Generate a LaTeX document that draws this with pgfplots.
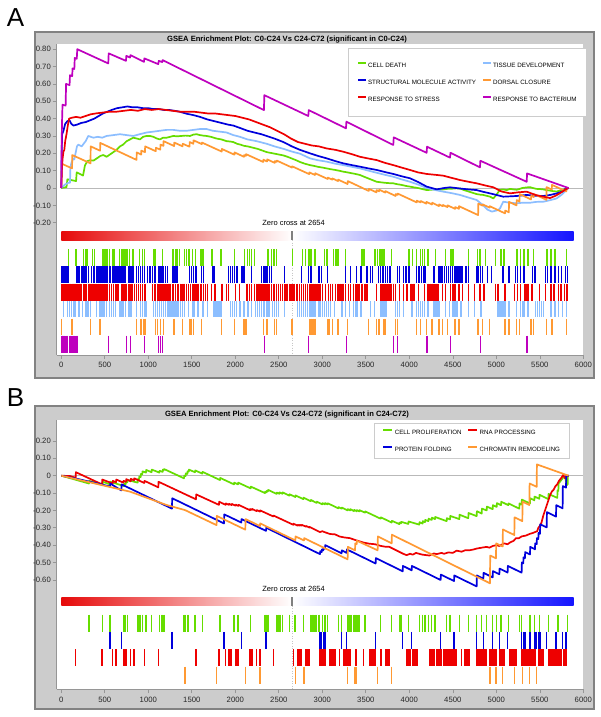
\documentclass[border=0pt]{standalone}
\usepackage{pgfplots}
\pgfplotsset{compat=1.18}
\usepackage{fontspec}
\setmainfont{Liberation Sans}
\definecolor{cgreen}{RGB}{102,221,0}
\definecolor{cblue}{RGB}{0,0,220}
\definecolor{cred}{RGB}{238,0,0}
\definecolor{clblue}{RGB}{140,190,255}
\definecolor{corange}{RGB}{255,153,51}
\definecolor{cmag}{RGB}{190,0,190}
\definecolor{barred}{RGB}{230,10,10}
\definecolor{barblue}{RGB}{20,20,255}
\definecolor{framegray}{RGB}{204,204,204}
\definecolor{frameline}{RGB}{130,130,130}
\definecolor{axgray}{RGB}{150,150,150}
\pgfplotsset{
  gsea/.style={
    scale only axis, width=526.8pt,
    xmin=-55, xmax=6000,
    axis background/.style={fill=white},
    axis x line*=bottom, axis y line*=left,
    axis line style={axgray, line width=0.6pt},
    tick style={axgray, line width=0.6pt},
    tick align=outside, major tick length=4pt,
    xtick={0,500,...,6000},
    xticklabels={0,500,1000,1500,2000,2500,3000,3500,4000,4500,5000,5500,6000},
    tick label style={font=\fontsize{7.7}{9}\selectfont, text=black!85},
    yticklabel style={inner xsep=1.5pt},
    legend cell align=left,
    every axis plot/.append style={line join=round},
  },
  rug/.style={forget plot, only marks, mark=|, mark size=8.6pt, mark options={line width=1.4pt}},
  curve/.style={line width=1.7pt, mark=none},
}
\begin{document}
\begin{tikzpicture}[x=1pt,y=1pt]
\useasboundingbox (0,0) rectangle (600,717);
\fill[framegray, draw=frameline, line width=1.2pt] (35,339) rectangle (594,685);
\fill[framegray, draw=frameline, line width=1.2pt] (35,8) rectangle (594,311);
\node[font=\fontsize{26}{26}\selectfont] at (15.5,699.5) {A};
\node[font=\fontsize{26}{26}\selectfont] at (15.5,319) {B};
\node[font=\bfseries\fontsize{7.6}{9}\selectfont] at (287,677) {GSEA Enrichment Plot: C0-C24 Vs C24-C72 (significant in C0-C24)};
\node[font=\bfseries\fontsize{7.6}{9}\selectfont] at (287,302.5) {GSEA Enrichment Plot: C0-C24 Vs C24-C72 (significant in C24-C72)};

% ---------------- Panel A ----------------
\begin{axis}[gsea, at={(56.5pt,362pt)}, anchor=south west, height=311pt,
  ymin=-0.9625, ymax=0.83,
  ytick={-0.2,-0.1,0,0.1,0.2,0.3,0.4,0.5,0.6,0.7,0.8},
  yticklabels={-0.20,-0.10,0,0.10,0.20,0.30,0.40,0.50,0.60,0.70,0.80},
  legend columns=2,
  legend image code/.code={\draw[#1, line width=2pt] (0pt,2.2pt) -- (8pt,2.2pt);},
  legend style={at={(0.553,0.987)}, anchor=north west, draw=gray!40, fill=white,
    font=\fontsize{6.25}{7}\selectfont, inner xsep=9pt, inner ysep=13.5pt, row sep=10.5pt,
    nodes={inner sep=1pt, text height=4.6pt, text depth=0pt},
    /tikz/every even column/.append style={column sep=5pt}},
]
\addplot[forget plot, gray!55, line width=0.7pt] coordinates {(0,0) (6000,0)};
\addplot[forget plot, draw=none, left color=barred, right color=white] coordinates {(0,-0.25) (2654,-0.25) (2654,-0.30) (0,-0.30) (0,-0.25)};
\addplot[forget plot, draw=none, left color=white, right color=barblue] coordinates {(2654,-0.25) (5890,-0.25) (5890,-0.30) (2654,-0.30) (2654,-0.25)};
\addplot[forget plot, gray!45, line width=0.5pt, dotted] coordinates {(2654,-0.30) (2654,-0.9625)};
\addplot[forget plot, gray, line width=1.5pt] coordinates {(2654,-0.25) (2654,-0.30)};
\node[font=\fontsize{7.5}{9}\selectfont] at (axis cs:2670,-0.2) {Zero cross at 2654};

% rugs
\addplot[rug, color=cgreen] coordinates {(80,-0.4)(168,-0.4)(257,-0.4)(283,-0.4)(301,-0.4)(359,-0.4)(381,-0.4)(478,-0.4)(504,-0.4)(526,-0.4)(557,-0.4)(593,-0.4)(615,-0.4)(672,-0.4)(690,-0.4)(708,-0.4)(725,-0.4)(743,-0.4)(756,-0.4)(787,-0.4)(823,-0.4)(900,-0.4)(931,-0.4)(953,-0.4)(1064,-0.4)(1086,-0.4)(1161,-0.4)(1285,-0.4)(1320,-0.4)(1338,-0.4)(1360,-0.4)(1418,-0.4)(1440,-0.4)(1470,-0.4)(1505,-0.4)(1540,-0.4)(1605,-0.4)(1627,-0.4)(1733,-0.4)(1835,-0.4)(1988,-0.4)(2108,-0.4)(2143,-0.4)(2165,-0.4)(2187,-0.4)(2223,-0.4)(2376,-0.4)(2416,-0.4)(2443,-0.4)(2474,-0.4)(2659,-0.4)(2773,-0.4)(2804,-0.4)(2839,-0.4)(2857,-0.4)(2871,-0.4)(2915,-0.4)(3025,-0.4)(3056,-0.4)(3127,-0.4)(3158,-0.4)(3180,-0.4)(3268,-0.4)(3457,-0.4)(3480,-0.4)(3607,-0.4)(3633,-0.4)(3664,-0.4)(3686,-0.4)(3708,-0.4)(3797,-0.4)(3995,-0.4)(4039,-0.4)(4083,-0.4)(4127,-0.4)(4149,-0.4)(4172,-0.4)(4216,-0.4)(4304,-0.4)(4414,-0.4)(4480,-0.4)(4502,-0.4)(4679,-0.4)(4781,-0.4)(4812,-0.4)(4878,-0.4)(4988,-0.4)(5055,-0.4)(5090,-0.4)(5240,-0.4)(5275,-0.4)(5319,-0.4)(5363,-0.4)(5430,-0.4)(5584,-0.4)(5628,-0.4)(5673,-0.4)(5805,-0.4)};
\addplot[rug, color=cblue] coordinates {(5,-0.5)(18,-0.5)(31,-0.5)(44,-0.5)(57,-0.5)(70,-0.5)(80,-0.5)(181,-0.5)(203,-0.5)(239,-0.5)(256,-0.5)(274,-0.5)(292,-0.5)(314,-0.5)(349,-0.5)(367,-0.5)(384,-0.5)(402,-0.5)(419,-0.5)(433,-0.5)(446,-0.5)(468,-0.5)(490,-0.5)(512,-0.5)(534,-0.5)(552,-0.5)(569,-0.5)(587,-0.5)(605,-0.5)(622,-0.5)(640,-0.5)(658,-0.5)(675,-0.5)(693,-0.5)(711,-0.5)(733,-0.5)(777,-0.5)(794,-0.5)(812,-0.5)(830,-0.5)(865,-0.5)(887,-0.5)(909,-0.5)(931,-0.5)(953,-0.5)(988,-0.5)(1019,-0.5)(1050,-0.5)(1077,-0.5)(1121,-0.5)(1138,-0.5)(1156,-0.5)(1174,-0.5)(1196,-0.5)(1218,-0.5)(1284,-0.5)(1306,-0.5)(1328,-0.5)(1474,-0.5)(1496,-0.5)(1518,-0.5)(1549,-0.5)(1615,-0.5)(1637,-0.5)(1738,-0.5)(1756,-0.5)(1924,-0.5)(1946,-0.5)(1968,-0.5)(1994,-0.5)(2021,-0.5)(2078,-0.5)(2100,-0.5)(2188,-0.5)(2299,-0.5)(2321,-0.5)(2343,-0.5)(2365,-0.5)(2391,-0.5)(2418,-0.5)(2563,-0.5)(2762,-0.5)(2841,-0.5)(2872,-0.5)(2960,-0.5)(2991,-0.5)(3062,-0.5)(3269,-0.5)(3326,-0.5)(3392,-0.5)(3445,-0.5)(3512,-0.5)(3556,-0.5)(3578,-0.5)(3644,-0.5)(3670,-0.5)(3697,-0.5)(3723,-0.5)(3750,-0.5)(3776,-0.5)(3864,-0.5)(3886,-0.5)(3931,-0.5)(3962,-0.5)(3997,-0.5)(4085,-0.5)(4111,-0.5)(4138,-0.5)(4164,-0.5)(4182,-0.5)(4283,-0.5)(4341,-0.5)(4363,-0.5)(4385,-0.5)(4407,-0.5)(4429,-0.5)(4451,-0.5)(4473,-0.5)(4495,-0.5)(4517,-0.5)(4539,-0.5)(4561,-0.5)(4583,-0.5)(4605,-0.5)(4650,-0.5)(4680,-0.5)(4769,-0.5)(4791,-0.5)(4817,-0.5)(4844,-0.5)(4901,-0.5)(4945,-0.5)(5078,-0.5)(5144,-0.5)(5223,-0.5)(5241,-0.5)(5276,-0.5)(5320,-0.5)(5417,-0.5)(5444,-0.5)(5563,-0.5)(5585,-0.5)(5629,-0.5)(5673,-0.5)(5717,-0.5)(5752,-0.5)(5796,-0.5)(5818,-0.5)};
\addplot[rug, color=cred] coordinates {(5,-0.6)(18,-0.6)(31,-0.6)(44,-0.6)(57,-0.6)(70,-0.6)(83,-0.6)(96,-0.6)(109,-0.6)(122,-0.6)(135,-0.6)(148,-0.6)(161,-0.6)(174,-0.6)(181,-0.6)(203,-0.6)(225,-0.6)(256,-0.6)(270,-0.6)(284,-0.6)(314,-0.6)(327,-0.6)(340,-0.6)(353,-0.6)(366,-0.6)(379,-0.6)(392,-0.6)(405,-0.6)(424,-0.6)(446,-0.6)(468,-0.6)(490,-0.6)(512,-0.6)(534,-0.6)(556,-0.6)(578,-0.6)(600,-0.6)(622,-0.6)(640,-0.6)(660,-0.6)(697,-0.6)(715,-0.6)(733,-0.6)(751,-0.6)(777,-0.6)(799,-0.6)(821,-0.6)(843,-0.6)(865,-0.6)(887,-0.6)(909,-0.6)(931,-0.6)(962,-0.6)(1050,-0.6)(1068,-0.6)(1086,-0.6)(1104,-0.6)(1121,-0.6)(1139,-0.6)(1156,-0.6)(1174,-0.6)(1192,-0.6)(1210,-0.6)(1228,-0.6)(1240,-0.6)(1253,-0.6)(1284,-0.6)(1315,-0.6)(1333,-0.6)(1350,-0.6)(1368,-0.6)(1386,-0.6)(1404,-0.6)(1416,-0.6)(1438,-0.6)(1460,-0.6)(1482,-0.6)(1505,-0.6)(1527,-0.6)(1549,-0.6)(1571,-0.6)(1606,-0.6)(1637,-0.6)(1659,-0.6)(1681,-0.6)(1725,-0.6)(1769,-0.6)(1849,-0.6)(1902,-0.6)(1924,-0.6)(2003,-0.6)(2047,-0.6)(2135,-0.6)(2161,-0.6)(2188,-0.6)(2224,-0.6)(2242,-0.6)(2260,-0.6)(2277,-0.6)(2295,-0.6)(2312,-0.6)(2330,-0.6)(2348,-0.6)(2365,-0.6)(2387,-0.6)(2418,-0.6)(2444,-0.6)(2475,-0.6)(2497,-0.6)(2519,-0.6)(2541,-0.6)(2563,-0.6)(2585,-0.6)(2603,-0.6)(2620,-0.6)(2638,-0.6)(2656,-0.6)(2673,-0.6)(2709,-0.6)(2740,-0.6)(2762,-0.6)(2784,-0.6)(2806,-0.6)(2828,-0.6)(2850,-0.6)(2872,-0.6)(2894,-0.6)(2916,-0.6)(2938,-0.6)(2960,-0.6)(2982,-0.6)(3004,-0.6)(3035,-0.6)(3070,-0.6)(3092,-0.6)(3114,-0.6)(3150,-0.6)(3181,-0.6)(3203,-0.6)(3225,-0.6)(3247,-0.6)(3269,-0.6)(3299,-0.6)(3326,-0.6)(3357,-0.6)(3379,-0.6)(3401,-0.6)(3423,-0.6)(3458,-0.6)(3490,-0.6)(3512,-0.6)(3622,-0.6)(3666,-0.6)(3688,-0.6)(3710,-0.6)(3732,-0.6)(3754,-0.6)(3776,-0.6)(3798,-0.6)(3820,-0.6)(3842,-0.6)(3886,-0.6)(3931,-0.6)(3975,-0.6)(4019,-0.6)(4041,-0.6)(4063,-0.6)(4107,-0.6)(4173,-0.6)(4217,-0.6)(4239,-0.6)(4261,-0.6)(4283,-0.6)(4305,-0.6)(4328,-0.6)(4385,-0.6)(4416,-0.6)(4473,-0.6)(4504,-0.6)(4526,-0.6)(4570,-0.6)(4614,-0.6)(4680,-0.6)(4747,-0.6)(4813,-0.6)(4857,-0.6)(4989,-0.6)(5020,-0.6)(5100,-0.6)(5210,-0.6)(5241,-0.6)(5276,-0.6)(5329,-0.6)(5351,-0.6)(5364,-0.6)(5408,-0.6)(5496,-0.6)(5563,-0.6)(5629,-0.6)(5664,-0.6)(5717,-0.6)(5735,-0.6)(5752,-0.6)(5783,-0.6)(5805,-0.6)(5818,-0.6)};
\addplot[rug, color=clblue, mark size=8pt] coordinates {(27,-0.7)(71,-0.7)(93,-0.7)(115,-0.7)(137,-0.7)(159,-0.7)(203,-0.7)(247,-0.7)(283,-0.7)(309,-0.7)(336,-0.7)(402,-0.7)(446,-0.7)(468,-0.7)(490,-0.7)(521,-0.7)(556,-0.7)(578,-0.7)(600,-0.7)(622,-0.7)(666,-0.7)(688,-0.7)(711,-0.7)(741,-0.7)(777,-0.7)(799,-0.7)(865,-0.7)(909,-0.7)(931,-0.7)(953,-0.7)(975,-0.7)(1063,-0.7)(1085,-0.7)(1107,-0.7)(1129,-0.7)(1152,-0.7)(1174,-0.7)(1196,-0.7)(1218,-0.7)(1240,-0.7)(1262,-0.7)(1284,-0.7)(1306,-0.7)(1328,-0.7)(1350,-0.7)(1372,-0.7)(1394,-0.7)(1416,-0.7)(1460,-0.7)(1505,-0.7)(1527,-0.7)(1571,-0.7)(1628,-0.7)(1681,-0.7)(1747,-0.7)(1769,-0.7)(1791,-0.7)(1813,-0.7)(1835,-0.7)(1946,-0.7)(1968,-0.7)(1990,-0.7)(2012,-0.7)(2056,-0.7)(2100,-0.7)(2144,-0.7)(2188,-0.7)(2232,-0.7)(2254,-0.7)(2276,-0.7)(2299,-0.7)(2330,-0.7)(2365,-0.7)(2387,-0.7)(2431,-0.7)(2453,-0.7)(2475,-0.7)(2497,-0.7)(2563,-0.7)(2718,-0.7)(2740,-0.7)(2762,-0.7)(2784,-0.7)(2806,-0.7)(2828,-0.7)(2850,-0.7)(2872,-0.7)(2894,-0.7)(2916,-0.7)(2960,-0.7)(2982,-0.7)(3004,-0.7)(3026,-0.7)(3048,-0.7)(3070,-0.7)(3092,-0.7)(3137,-0.7)(3225,-0.7)(3269,-0.7)(3313,-0.7)(3357,-0.7)(3379,-0.7)(3401,-0.7)(3445,-0.7)(3556,-0.7)(3600,-0.7)(3666,-0.7)(3688,-0.7)(3710,-0.7)(3732,-0.7)(3842,-0.7)(3864,-0.7)(3886,-0.7)(3931,-0.7)(4032,-0.7)(4085,-0.7)(4107,-0.7)(4129,-0.7)(4151,-0.7)(4173,-0.7)(4217,-0.7)(4283,-0.7)(4305,-0.7)(4328,-0.7)(4350,-0.7)(4416,-0.7)(4460,-0.7)(4504,-0.7)(4526,-0.7)(4548,-0.7)(4592,-0.7)(4680,-0.7)(4747,-0.7)(4826,-0.7)(5011,-0.7)(5033,-0.7)(5055,-0.7)(5078,-0.7)(5100,-0.7)(5144,-0.7)(5232,-0.7)(5276,-0.7)(5298,-0.7)(5320,-0.7)(5364,-0.7)(5452,-0.7)(5474,-0.7)(5496,-0.7)(5518,-0.7)(5540,-0.7)(5629,-0.7)(5673,-0.7)(5717,-0.7)(5761,-0.7)(5805,-0.7)};
\addplot[rug, color=corange, mark size=8.2pt] coordinates {(5,-0.8)(124,-0.8)(336,-0.8)(446,-0.8)(865,-0.8)(918,-0.8)(944,-0.8)(962,-0.8)(1086,-0.8)(1108,-0.8)(1138,-0.8)(1174,-0.8)(1297,-0.8)(1394,-0.8)(1474,-0.8)(1491,-0.8)(1518,-0.8)(1615,-0.8)(1844,-0.8)(1990,-0.8)(2100,-0.8)(2122,-0.8)(2321,-0.8)(2365,-0.8)(2453,-0.8)(2475,-0.8)(2651,-0.8)(2850,-0.8)(2872,-0.8)(2894,-0.8)(2916,-0.8)(3062,-0.8)(3079,-0.8)(3115,-0.8)(3181,-0.8)(3291,-0.8)(3534,-0.8)(3622,-0.8)(3653,-0.8)(3710,-0.8)(3723,-0.8)(3842,-0.8)(3864,-0.8)(4085,-0.8)(4129,-0.8)(4195,-0.8)(4261,-0.8)(4341,-0.8)(4385,-0.8)(4438,-0.8)(4526,-0.8)(4570,-0.8)(4791,-0.8)(4844,-0.8)(4923,-0.8)(5100,-0.8)(5144,-0.8)(5232,-0.8)(5267,-0.8)(5399,-0.8)(5430,-0.8)(5576,-0.8)(5638,-0.8)(5805,-0.8)};
\addplot[rug, color=cmag] coordinates {(4,-0.9)(8,-0.9)(14,-0.9)(25,-0.9)(40,-0.9)(55,-0.9)(70,-0.9)(100,-0.9)(115,-0.9)(130,-0.9)(142,-0.9)(155,-0.9)(170,-0.9)(184,-0.9)(545,-0.9)(748,-0.9)(795,-0.9)(955,-0.9)(1120,-0.9)(1140,-0.9)(1165,-0.9)(2334,-0.9)(2844,-0.9)(3277,-0.9)(3821,-0.9)(3864,-0.9)(4204,-0.9)(4473,-0.9)(4817,-0.9)(5354,-0.9)};

% curves
\addplot[curve, color=cgreen] coordinates {(0,0) (60,0.005) (70,0.05) (170,0.04) (177,0.09) (250,0.072) (272,0.13) (300,0.155) (330,0.16) (370,0.158) (406,0.17) (450,0.185) (483,0.19) (521,0.18) (579,0.20) (636,0.22) (675,0.24) (710,0.25) (751,0.27) (790,0.28) (828,0.29) (870,0.285) (904,0.28) (940,0.295) (981,0.30) (1020,0.3) (1058,0.295) (1100,0.285) (1134,0.28) (1170,0.29) (1211,0.29) (1250,0.295) (1287,0.30) (1330,0.298) (1380,0.30) (1430,0.302) (1479,0.30) (1520,0.308) (1556,0.31) (1594,0.305) (1630,0.302) (1670,0.30) (1720,0.295) (1785,0.285) (1840,0.28) (1900,0.27) (1940,0.268) (1977,0.265) (2020,0.255) (2060,0.25) (2100,0.243) (2140,0.24) (2180,0.235) (2220,0.23) (2260,0.225) (2300,0.218) (2360,0.207) (2400,0.203) (2450,0.198) (2500,0.193) (2552,0.188) (2600,0.18) (2650,0.17) (2700,0.16) (2743,0.15) (2800,0.14) (2858,0.132) (2900,0.128) (2950,0.122) (3000,0.118) (3050,0.113) (3100,0.108) (3150,0.104) (3200,0.099) (3242,0.094) (3290,0.09) (3340,0.085) (3390,0.08) (3433,0.075) (3480,0.065) (3530,0.055) (3580,0.045) (3625,0.036) (3670,0.033) (3720,0.03) (3770,0.028) (3816,0.027) (3860,0.022) (3910,0.018) (3960,0.012) (4008,0.008) (4050,0.004) (4100,0.0) (4150,-0.006) (4200,-0.012) (4250,-0.01) (4300,-0.008) (4350,-0.01) (4391,-0.008) (4440,-0.005) (4490,-0.004) (4540,-0.002) (4583,-0.003) (4630,-0.012) (4680,-0.02) (4730,-0.028) (4774,-0.035) (4810,-0.038) (4850,-0.04) (4890,-0.045) (4928,-0.05) (4966,-0.06) (5000,-0.04) (5042,-0.01) (5080,-0.008) (5120,-0.012) (5157,-0.005) (5200,-0.008) (5234,-0.01) (5270,-0.005) (5300,0.0) (5340,0.003) (5387,0.005) (5420,0.0) (5460,-0.005) (5500,-0.006) (5540,-0.008) (5580,-0.012) (5617,-0.015) (5650,-0.018) (5694,-0.02) (5730,-0.015) (5760,-0.01) (5800,-0.005) (5830,0)};
\addlegendentry{CELL DEATH}
\addplot[curve, color=clblue] coordinates {(0,0) (20,0.01) (43,0.02) (81,0.03) (100,0.03) (105,0.12) (119,0.15) (138,0.17) (150,0.165) (180,0.24) (196,0.25) (234,0.24) (280,0.27) (310,0.30) (368,0.29) (420,0.295) (470,0.29) (521,0.30) (600,0.305) (675,0.31) (750,0.305) (828,0.30) (900,0.31) (981,0.32) (1060,0.325) (1134,0.33) (1210,0.335) (1287,0.335) (1360,0.33) (1441,0.33) (1520,0.335) (1594,0.34) (1670,0.34) (1740,0.33) (1820,0.325) (1900,0.32) (1977,0.305) (2054,0.295) (2140,0.28) (2245,0.27) (2360,0.255) (2450,0.24) (2552,0.226) (2650,0.21) (2743,0.198) (2858,0.171) (2950,0.16) (3050,0.152) (3150,0.14) (3242,0.132) (3340,0.122) (3433,0.113) (3530,0.10) (3625,0.088) (3720,0.076) (3816,0.065) (3910,0.05) (4008,0.036) (4100,0.02) (4200,0.0) (4300,-0.012) (4391,-0.021) (4490,-0.03) (4583,-0.04) (4680,-0.055) (4774,-0.069) (4850,-0.1) (4900,-0.125) (4950,-0.136) (5000,-0.13) (5040,-0.12) (5080,-0.079) (5157,-0.085) (5234,-0.088) (5300,-0.085) (5387,-0.085) (5460,-0.08) (5540,-0.079) (5620,-0.07) (5694,-0.06) (5760,-0.035) (5808,-0.01) (5830,0)};
\addlegendentry{TISSUE DEVELOPMENT}
\addplot[curve, color=cblue] coordinates {(0,0) (5,0.22) (10,0.31) (25,0.33) (45,0.37) (70,0.385) (95,0.39) (115,0.37) (140,0.36) (180,0.365) (230,0.375) (280,0.38) (330,0.39) (380,0.40) (430,0.415) (480,0.43) (530,0.44) (580,0.45) (640,0.46) (700,0.465) (760,0.47) (820,0.465) (880,0.465) (940,0.46) (1000,0.46) (1060,0.455) (1120,0.455) (1180,0.45) (1240,0.45) (1300,0.445) (1360,0.44) (1441,0.428) (1520,0.42) (1594,0.41) (1680,0.395) (1760,0.385) (1840,0.375) (1920,0.365) (1977,0.36) (2060,0.345) (2140,0.33) (2220,0.32) (2300,0.31) (2360,0.30) (2450,0.285) (2552,0.265) (2650,0.24) (2743,0.22) (2858,0.20) (2950,0.185) (3050,0.171) (3150,0.155) (3242,0.142) (3340,0.132) (3433,0.123) (3530,0.113) (3625,0.104) (3720,0.092) (3816,0.081) (3910,0.068) (4008,0.056) (4100,0.035) (4200,0.008) (4315,-0.008) (4400,0.0) (4468,0.004) (4583,-0.003) (4680,-0.008) (4774,-0.012) (4850,-0.022) (4928,-0.031) (5000,-0.04) (5080,-0.05) (5160,-0.048) (5234,-0.046) (5349,-0.04) (5450,-0.045) (5540,-0.046) (5620,-0.04) (5694,-0.031) (5760,-0.02) (5808,0) (5830,0)};
\addlegendentry{STRUCTURAL MOLECULE ACTIVITY}
\addplot[curve, color=corange] coordinates {(0,0) (5,0.14) (124,0.113) (126,0.19) (336,0.142) (338,0.24) (446,0.215) (448,0.26) (865,0.162) (867,0.205) (918,0.193) (920,0.215) (962,0.207) (964,0.24) (1086,0.212) (1088,0.232) (1138,0.221) (1140,0.25) (1174,0.243) (1176,0.27) (1297,0.242) (1299,0.262) (1394,0.24) (1396,0.255) (1474,0.238) (1476,0.265) (1518,0.255) (1520,0.275) (1615,0.253) (1617,0.262) (1844,0.21) (1846,0.225) (1990,0.192) (1992,0.205) (2100,0.18) (2102,0.19) (2122,0.185) (2124,0.195) (2321,0.15) (2323,0.163) (2365,0.153) (2367,0.165) (2453,0.145) (2455,0.155) (2475,0.15) (2477,0.158) (2651,0.118) (2653,0.125) (2850,0.08) (2852,0.09) (2916,0.075) (2918,0.085) (3062,0.052) (3064,0.06) (3115,0.048) (3117,0.055) (3181,0.04) (3183,0.048) (3291,0.023) (3293,0.04) (3534,-0.017) (3536,-0.005) (3622,-0.025) (3624,-0.012) (3653,-0.019) (3655,-0.01) (3723,-0.026) (3725,-0.018) (3842,-0.046) (3844,-0.035) (3864,-0.04) (3866,-0.032) (4085,-0.083) (4087,-0.073) (4129,-0.083) (4131,-0.075) (4195,-0.09) (4197,-0.08) (4261,-0.095) (4263,-0.085) (4341,-0.104) (4343,-0.095) (4385,-0.105) (4387,-0.098) (4438,-0.11) (4440,-0.1) (4526,-0.12) (4528,-0.11) (4570,-0.12) (4572,-0.105) (4791,-0.156) (4793,-0.09) (4844,-0.102) (4846,-0.095) (4923,-0.113) (4925,-0.105) (5100,-0.146) (5102,-0.13) (5144,-0.14) (5146,-0.08) (5232,-0.1) (5234,-0.07) (5267,-0.078) (5269,-0.035) (5399,-0.066) (5401,-0.045) (5430,-0.052) (5432,-0.035) (5576,-0.068) (5578,0.005) (5638,-0.009) (5640,0.018) (5805,-0.02) (5807,0.0) (5830,0)};
\addlegendentry{DORSAL CLOSURE}
\addplot[curve, color=cred] coordinates {(0,0) (8,0.12) (15,0.17) (25,0.21) (35,0.22) (45,0.27) (60,0.31) (75,0.36) (90,0.40) (120,0.405) (170,0.41) (220,0.405) (280,0.415) (340,0.425) (400,0.43) (480,0.435) (560,0.44) (640,0.44) (720,0.445) (800,0.45) (880,0.445) (960,0.455) (1040,0.45) (1120,0.455) (1200,0.45) (1280,0.445) (1360,0.44) (1440,0.44) (1520,0.44) (1600,0.435) (1680,0.43) (1760,0.43) (1840,0.425) (1920,0.42) (2000,0.415) (2080,0.405) (2160,0.395) (2240,0.38) (2320,0.365) (2400,0.35) (2480,0.33) (2560,0.31) (2640,0.285) (2720,0.265) (2800,0.255) (2880,0.245) (2960,0.24) (3050,0.228) (3150,0.22) (3242,0.209) (3340,0.195) (3433,0.18) (3530,0.17) (3625,0.161) (3720,0.145) (3816,0.132) (3910,0.118) (4008,0.104) (4100,0.09) (4200,0.081) (4300,0.076) (4391,0.071) (4490,0.058) (4583,0.046) (4680,0.036) (4774,0.027) (4870,0.015) (4966,0.004) (5060,-0.02) (5157,-0.031) (5250,-0.025) (5349,-0.021) (5450,-0.04) (5540,-0.05) (5617,-0.058) (5680,-0.045) (5732,-0.03) (5790,-0.01) (5830,0)};
\addlegendentry{RESPONSE TO STRESS}
\addplot[curve, color=cmag] coordinates {(0,0) (4,0.24) (8,0.37) (14,0.48) (50,0.475) (55,0.60) (95,0.593) (100,0.65) (125,0.645) (130,0.69) (150,0.686) (155,0.75) (178,0.745) (184,0.80) (540,0.718) (545,0.776) (743,0.733) (748,0.762) (790,0.752) (795,0.766) (950,0.727) (955,0.747) (1115,0.714) (1120,0.733) (1160,0.726) (1165,0.737) (2329,0.449) (2334,0.535) (2839,0.415) (2844,0.449) (3272,0.344) (3277,0.382) (3816,0.248) (3821,0.292) (4199,0.203) (4204,0.238) (4468,0.175) (4473,0.203) (4812,0.119) (4817,0.157) (5349,0.036) (5354,0.084) (5830,0.0)};
\addlegendentry{RESPONSE TO BACTERIUM}
\end{axis}

% ---------------- Panel B ----------------
\begin{axis}[gsea, at={(56.5pt,27.7pt)}, anchor=south west, height=269.3pt,
  ymin=-1.231, ymax=0.321,
  ytick={-0.6,-0.5,-0.4,-0.3,-0.2,-0.1,0,0.1,0.2},
  yticklabels={-0.60,-0.50,-0.40,-0.30,-0.20,-0.10,0,0.10,0.20},
  legend columns=2,
  legend image code/.code={\draw[#1, line width=2pt] (0pt,2.2pt) -- (9pt,2.2pt);},
  legend style={at={(0.603,0.989)}, anchor=north west, draw=gray!40, fill=white,
    font=\fontsize{6.2}{7}\selectfont, inner xsep=8pt, inner ysep=5pt, row sep=10pt,
    nodes={inner sep=1.5pt, text height=4.6pt, text depth=0pt},
    /tikz/every even column/.append style={column sep=4pt}},
]
\addplot[forget plot, gray!55, line width=0.7pt] coordinates {(0,0) (6000,0)};
\addplot[forget plot, draw=none, left color=barred, right color=white] coordinates {(0,-0.70) (2654,-0.70) (2654,-0.75) (0,-0.75) (0,-0.70)};
\addplot[forget plot, draw=none, left color=white, right color=barblue] coordinates {(2654,-0.70) (5890,-0.70) (5890,-0.75) (2654,-0.75) (2654,-0.70)};
\addplot[forget plot, gray!45, line width=0.5pt, dotted] coordinates {(2654,-0.75) (2654,-1.231)};
\addplot[forget plot, gray, line width=1.5pt] coordinates {(2654,-0.70) (2654,-0.75)};
\node[font=\fontsize{7.5}{9}\selectfont] at (axis cs:2670,-0.653) {Zero cross at 2654};

\addplot[rug, color=cgreen] coordinates {(318,-0.85)(475,-0.85)(560,-0.85)(721,-0.85)(740,-0.85)(759,-0.85)(878,-0.85)(893,-0.85)(912,-0.85)(931,-0.85)(973,-0.85)(1038,-0.85)(1127,-0.85)(1150,-0.85)(1165,-0.85)(1180,-0.85)(1410,-0.85)(1429,-0.85)(1449,-0.85)(1464,-0.85)(1537,-0.85)(1621,-0.85)(1824,-0.85)(1985,-0.85)(2031,-0.85)(2176,-0.85)(2341,-0.85)(2360,-0.85)(2375,-0.85)(2475,-0.85)(2490,-0.85)(2506,-0.85)(2521,-0.85)(2540,-0.85)(2621,-0.85)(2678,-0.85)(2690,-0.85)(2782,-0.85)(2866,-0.85)(2881,-0.85)(2897,-0.85)(2915,-0.85)(2935,-0.85)(2960,-0.85)(3000,-0.85)(3030,-0.85)(3060,-0.85)(3184,-0.85)(3222,-0.85)(3290,-0.85)(3305,-0.85)(3320,-0.85)(3337,-0.85)(3364,-0.85)(3380,-0.85)(3395,-0.85)(3410,-0.85)(3426,-0.85)(3491,-0.85)(3671,-0.85)(3797,-0.85)(3885,-0.85)(3904,-0.85)(3989,-0.85)(4115,-0.85)(4153,-0.85)(4180,-0.85)(4219,-0.85)(4257,-0.85)(4295,-0.85)(4429,-0.85)(4468,-0.85)(4575,-0.85)(4678,-0.85)(4774,-0.85)(4832,-0.85)(4889,-0.85)(4958,-0.85)(5004,-0.85)(5054,-0.85)(5138,-0.85)(5264,-0.85)(5291,-0.85)(5387,-0.85)(5437,-0.85)(5494,-0.85)(5598,-0.85)(5701,-0.85)(5713,-0.85)(5820,-0.85)};
\addplot[rug, color=cblue] coordinates {(560,-0.95)(690,-0.95)(1272,-0.95)(1870,-0.95)(2069,-0.95)(2353,-0.95)(2973,-0.95)(2993,-0.95)(3012,-0.95)(3031,-0.95)(3222,-0.95)(3280,-0.95)(3613,-0.95)(3924,-0.95)(4027,-0.95)(4360,-0.95)(4514,-0.95)(4774,-0.95)(4851,-0.95)(4958,-0.95)(5035,-0.95)(5130,-0.95)(5291,-0.95)(5310,-0.95)(5329,-0.95)(5387,-0.95)(5444,-0.95)(5464,-0.95)(5483,-0.95)(5502,-0.95)(5579,-0.95)(5686,-0.95)(5762,-0.95)(5801,-0.95)};
\addplot[rug, color=cred] coordinates {(165,-1.05)(468,-1.05)(590,-1.05)(629,-1.05)(713,-1.05)(728,-1.05)(744,-1.05)(797,-1.05)(836,-1.05)(954,-1.05)(1115,-1.05)(1548,-1.05)(1812,-1.05)(1889,-1.05)(1927,-1.05)(1942,-1.05)(1958,-1.05)(2004,-1.05)(2020,-1.05)(2035,-1.05)(2169,-1.05)(2180,-1.05)(2191,-1.05)(2245,-1.05)(2283,-1.05)(2437,-1.05)(2667,-1.05)(2716,-1.05)(2731,-1.05)(2746,-1.05)(2762,-1.05)(2812,-1.05)(2825,-1.05)(2838,-1.05)(2851,-1.05)(2973,-1.05)(2985,-1.05)(2997,-1.05)(3009,-1.05)(3020,-1.05)(3031,-1.05)(3088,-1.05)(3100,-1.05)(3112,-1.05)(3124,-1.05)(3136,-1.05)(3146,-1.05)(3196,-1.05)(3242,-1.05)(3255,-1.05)(3268,-1.05)(3281,-1.05)(3294,-1.05)(3306,-1.05)(3318,-1.05)(3387,-1.05)(3472,-1.05)(3541,-1.05)(3554,-1.05)(3567,-1.05)(3580,-1.05)(3593,-1.05)(3606,-1.05)(3675,-1.05)(3732,-1.05)(3745,-1.05)(3758,-1.05)(3770,-1.05)(3969,-1.05)(3982,-1.05)(3995,-1.05)(4008,-1.05)(4035,-1.05)(4049,-1.05)(4063,-1.05)(4077,-1.05)(4092,-1.05)(4230,-1.05)(4243,-1.05)(4257,-1.05)(4270,-1.05)(4284,-1.05)(4314,-1.05)(4328,-1.05)(4342,-1.05)(4356,-1.05)(4371,-1.05)(4399,-1.05)(4411,-1.05)(4423,-1.05)(4435,-1.05)(4447,-1.05)(4459,-1.05)(4471,-1.05)(4483,-1.05)(4495,-1.05)(4507,-1.05)(4519,-1.05)(4531,-1.05)(4544,-1.05)(4602,-1.05)(4640,-1.05)(4652,-1.05)(4665,-1.05)(4677,-1.05)(4690,-1.05)(4774,-1.05)(4786,-1.05)(4798,-1.05)(4810,-1.05)(4822,-1.05)(4834,-1.05)(4846,-1.05)(4858,-1.05)(4870,-1.05)(4882,-1.05)(4889,-1.05)(4920,-1.05)(4932,-1.05)(4944,-1.05)(4956,-1.05)(4968,-1.05)(4980,-1.05)(4992,-1.05)(5004,-1.05)(5035,-1.05)(5048,-1.05)(5061,-1.05)(5074,-1.05)(5088,-1.05)(5157,-1.05)(5170,-1.05)(5183,-1.05)(5196,-1.05)(5209,-1.05)(5226,-1.05)(5291,-1.05)(5303,-1.05)(5315,-1.05)(5327,-1.05)(5339,-1.05)(5351,-1.05)(5363,-1.05)(5375,-1.05)(5387,-1.05)(5406,-1.05)(5418,-1.05)(5431,-1.05)(5444,-1.05)(5483,-1.05)(5495,-1.05)(5507,-1.05)(5519,-1.05)(5531,-1.05)(5540,-1.05)(5598,-1.05)(5610,-1.05)(5622,-1.05)(5634,-1.05)(5646,-1.05)(5658,-1.05)(5670,-1.05)(5682,-1.05)(5694,-1.05)(5706,-1.05)(5718,-1.05)(5730,-1.05)(5742,-1.05)(5751,-1.05)(5778,-1.05)(5790,-1.05)(5801,-1.05)};
\addplot[rug, color=corange] coordinates {(1421,-1.15)(1785,-1.15)(2115,-1.15)(2283,-1.15)(2690,-1.15)(2789,-1.15)(3291,-1.15)(3376,-1.15)(3395,-1.15)(3636,-1.15)(3797,-1.15)(4927,-1.15)(4996,-1.15)(5073,-1.15)(5207,-1.15)(5299,-1.15)(5380,-1.15)(5464,-1.15)};

\addplot[curve, color=cgreen] coordinates {(0,0) (318,-0.045) (320,-0.03) (475,-0.05) (477,-0.035) (560,-0.05) (562,-0.035) (721,-0.06) (724,-0.045) (740,-0.048) (743,-0.035) (759,-0.038) (762,-0.025) (878,-0.04) (881,-0.02) (893,-0.022) (896,-0.005) (912,-0.008) (915,0.01) (931,0.008) (934,0.025) (973,0.018) (976,0.033) (1038,0.02) (1041,0.035) (1127,0.018) (1130,0.028) (1165,0.022) (1168,0.035) (1180,0.033) (1183,0.038) (1410,-0.015) (1413,0.0) (1429,-0.002) (1432,0.013) (1449,0.01) (1452,0.025) (1464,0.023) (1467,0.035) (1537,0.02) (1540,0.03) (1621,0.012) (1624,0.022) (1824,-0.025) (1827,-0.013) (1985,-0.05) (1988,-0.04) (2031,-0.05) (2034,-0.04) (2176,-0.073) (2179,-0.063) (2341,-0.1) (2344,-0.092) (2360,-0.096) (2363,-0.087) (2375,-0.09) (2378,-0.082) (2475,-0.105) (2478,-0.097) (2506,-0.104) (2509,-0.096) (2540,-0.104) (2543,-0.096) (2621,-0.115) (2624,-0.107) (2690,-0.123) (2693,-0.114) (2782,-0.135) (2785,-0.127) (2866,-0.147) (2869,-0.14) (2935,-0.157) (2938,-0.15) (3000,-0.165) (3003,-0.158) (3030,-0.165) (3033,-0.158) (3060,-0.165) (3063,-0.159) (3184,-0.188) (3187,-0.181) (3222,-0.19) (3225,-0.184) (3290,-0.2) (3293,-0.193) (3320,-0.2) (3323,-0.193) (3364,-0.204) (3367,-0.197) (3395,-0.205) (3398,-0.198) (3426,-0.206) (3429,-0.199) (3491,-0.213) (3494,-0.206) (3671,-0.248) (3674,-0.24) (3797,-0.27) (3800,-0.26) (3885,-0.279) (3888,-0.27) (3904,-0.275) (3907,-0.266) (3989,-0.278) (3992,-0.264) (4115,-0.282) (4118,-0.268) (4153,-0.276) (4156,-0.262) (4180,-0.268) (4183,-0.255) (4219,-0.262) (4222,-0.248) (4257,-0.255) (4260,-0.242) (4295,-0.25) (4298,-0.238) (4429,-0.262) (4432,-0.245) (4468,-0.252) (4471,-0.232) (4575,-0.25) (4578,-0.225) (4678,-0.245) (4681,-0.215) (4774,-0.233) (4777,-0.205) (4832,-0.218) (4835,-0.19) (4889,-0.2) (4892,-0.178) (4958,-0.193) (4961,-0.17) (5004,-0.18) (5007,-0.158) (5054,-0.17) (5057,-0.15) (5138,-0.17) (5141,-0.16) (5264,-0.19) (5267,-0.16) (5291,-0.166) (5294,-0.138) (5387,-0.16) (5390,-0.13) (5437,-0.142) (5440,-0.12) (5494,-0.133) (5497,-0.11) (5598,-0.135) (5601,-0.105) (5701,-0.128) (5704,-0.085) (5713,-0.088) (5716,-0.045) (5770,-0.01) (5790,-0.005) (5810,-0.055) (5820,-0.05) (5823,0.0) (5830,0)};
\addlegendentry{CELL PROLIFERATION}
\addplot[curve, color=cred] coordinates {(0,0) (100,-0.002) (165,-0.012) (168,0.02) (468,-0.05) (471,-0.022) (590,-0.045) (593,-0.03) (629,-0.038) (632,-0.022) (713,-0.04) (716,-0.03) (744,-0.035) (747,-0.02) (797,-0.032) (800,-0.018) (836,-0.027) (839,-0.015) (954,-0.042) (957,-0.03) (1115,-0.067) (1118,-0.035) (1548,-0.136) (1551,-0.108) (1812,-0.168) (1815,-0.15) (1889,-0.168) (1892,-0.16) (1927,-0.168) (1930,-0.162) (1958,-0.169) (1961,-0.163) (2004,-0.173) (2007,-0.167) (2035,-0.174) (2038,-0.168) (2169,-0.199) (2172,-0.192) (2191,-0.197) (2194,-0.192) (2245,-0.204) (2248,-0.198) (2283,-0.207) (2286,-0.2) (2437,-0.235) (2440,-0.23) (2667,-0.283) (2670,-0.277) (2716,-0.288) (2719,-0.283) (2740,-0.288) (2743,-0.283) (2762,-0.288) (2765,-0.283) (2812,-0.294) (2815,-0.29) (2851,-0.299) (2854,-0.295) (2973,-0.325) (3000,-0.32) (3031,-0.326) (3088,-0.336) (3146,-0.338) (3196,-0.35) (3242,-0.355) (3318,-0.36) (3387,-0.372) (3472,-0.385) (3541,-0.392) (3606,-0.395) (3675,-0.405) (3732,-0.41) (3770,-0.41) (3850,-0.43) (3930,-0.45) (3969,-0.458) (4008,-0.45) (4040,-0.455) (4077,-0.445) (4150,-0.455) (4230,-0.46) (4284,-0.448) (4314,-0.452) (4371,-0.445) (4399,-0.45) (4450,-0.442) (4500,-0.445) (4544,-0.432) (4602,-0.438) (4640,-0.43) (4690,-0.43) (4740,-0.425) (4774,-0.42) (4830,-0.415) (4889,-0.41) (4920,-0.415) (4960,-0.405) (5004,-0.40) (5035,-0.405) (5088,-0.39) (5130,-0.395) (5157,-0.385) (5200,-0.375) (5226,-0.36) (5260,-0.36) (5291,-0.35) (5340,-0.345) (5387,-0.335) (5420,-0.33) (5444,-0.325) (5470,-0.32) (5483,-0.3) (5500,-0.29) (5520,-0.27) (5540,-0.23) (5560,-0.2) (5580,-0.17) (5600,-0.14) (5620,-0.11) (5640,-0.09) (5660,-0.08) (5680,-0.06) (5700,-0.05) (5720,-0.03) (5751,-0.01) (5770,0.005) (5790,-0.015) (5808,0) (5830,0)};
\addlegendentry{RNA PROCESSING}
\addplot[curve, color=cblue] coordinates {(0,0) (200,-0.02) (406,-0.044) (560,-0.062) (563,-0.045) (690,-0.085) (693,-0.05) (1272,-0.19) (1275,-0.13) (1870,-0.275) (1873,-0.223) (2069,-0.27) (2072,-0.25) (2353,-0.318) (2356,-0.30) (2973,-0.452) (2976,-0.435) (2993,-0.44) (2996,-0.425) (3012,-0.43) (3015,-0.415) (3031,-0.42) (3034,-0.40) (3222,-0.447) (3225,-0.43) (3280,-0.445) (3283,-0.425) (3613,-0.506) (3616,-0.475) (3924,-0.551) (3927,-0.52) (4027,-0.545) (4030,-0.52) (4360,-0.601) (4363,-0.57) (4514,-0.607) (4517,-0.575) (4774,-0.638) (4777,-0.575) (4851,-0.593) (4854,-0.56) (4958,-0.586) (4961,-0.55) (5035,-0.568) (5038,-0.535) (5130,-0.558) (5133,-0.52) (5291,-0.559) (5294,-0.50) (5310,-0.505) (5313,-0.47) (5329,-0.475) (5332,-0.44) (5387,-0.454) (5390,-0.41) (5444,-0.424) (5447,-0.39) (5464,-0.395) (5467,-0.36) (5483,-0.365) (5486,-0.33) (5502,-0.335) (5505,-0.28) (5579,-0.298) (5582,-0.21) (5686,-0.236) (5689,-0.17) (5762,-0.188) (5765,-0.06) (5801,-0.069) (5804,0.0) (5830,0)};
\addlegendentry{PROTEIN FOLDING}
\addplot[curve, color=corange] coordinates {(0,0) (790,-0.092) (1211,-0.169) (1421,-0.198) (1785,-0.285) (1788,-0.232) (2115,-0.311) (2118,-0.25) (2283,-0.29) (2286,-0.275) (2690,-0.373) (2693,-0.35) (2789,-0.373) (2792,-0.36) (3291,-0.482) (3294,-0.41) (3376,-0.43) (3379,-0.39) (3395,-0.394) (3398,-0.375) (3636,-0.43) (3639,-0.35) (3797,-0.39) (3800,-0.34) (4927,-0.62) (4930,-0.46) (4996,-0.476) (4999,-0.39) (5073,-0.408) (5076,-0.31) (5207,-0.342) (5210,-0.24) (5299,-0.262) (5302,-0.15) (5380,-0.169) (5383,-0.045) (5464,-0.064) (5467,0.065) (5830,0)};
\addlegendentry{CHROMATIN REMODELING}
\end{axis}
\end{tikzpicture}
\end{document}
